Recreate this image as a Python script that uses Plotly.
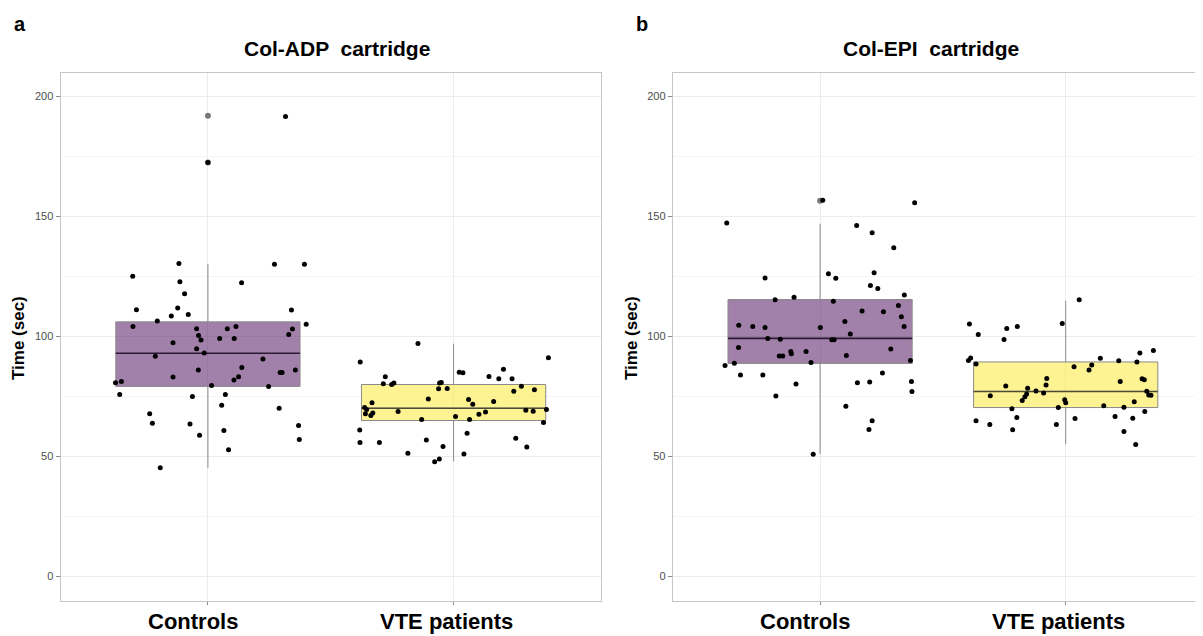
import plotly.graph_objects as go

# ---------------- data ----------------
CATEGORIES = ["Controls", "VTE patients"]
CAT_POS = [1, 2]
PANEL_TITLES = ["Col-ADP  cartridge", "Col-EPI  cartridge"]
PANEL_LETTERS = ["a", "b"]
Y_TITLE = "Time (sec)"
Y_TICKS = [0, 50, 100, 150, 200]

# box statistics: [Controls, VTE patients]
ADP_Q1 = [79.2, 65.0]
ADP_MED = [93.0, 70.1]
ADP_Q3 = [106.1, 80.0]
ADP_LO = [45.3, 48.0]
ADP_HI = [130.2, 97.0]
ADP_OUTLIERS_CTRL = [192.0, 172.5]

EPI_Q1 = [88.8, 70.4]
EPI_MED = [99.2, 77.1]
EPI_Q3 = [115.4, 89.4]
EPI_LO = [51.0, 55.2]
EPI_HI = [147.0, 114.9]
EPI_OUTLIERS_CTRL = [156.6]

# jittered observations: horizontal jitter (category units) and time (sec)
ADP_CTRL_DX = [-0.118, -0.306, -0.114, -0.095, -0.123, -0.291, -0.080, -0.149, -0.206, -0.305,
               -0.046, -0.038, -0.028, -0.142, -0.046, -0.015, -0.214, -0.039, -0.142, -0.376,
               -0.352, -0.359, -0.063, -0.237, -0.226, -0.073, -0.034, -0.194, 0.271, 0.393,
               0.137, 0.340, 0.400, 0.344, 0.329, 0.079, 0.114, 0.048, 0.107, 0.224,
               0.138, 0.356, 0.294, 0.302, 0.125, 0.106, 0.015, 0.247, 0.071, 0.056,
               0.290, 0.369, 0.065, 0.372, 0.084, 0.316, 0.0]
ADP_CTRL_Y = [130.4, 125.1, 122.8, 117.8, 111.9, 111.1, 109.2, 108.5, 106.5, 104.2,
              103.2, 100.4, 98.5, 97.4, 94.9, 93.1, 91.8, 86.0, 83.1, 80.7,
              81.3, 75.8, 75.0, 67.8, 63.9, 63.5, 58.9, 45.3, 130.1, 130.1,
              122.4, 111.0, 105.1, 103.1, 100.8, 103.2, 104.2, 99.2, 99.2, 90.6,
              87.1, 86.0, 85.0, 85.0, 83.2, 81.9, 79.6, 79.2, 75.8, 71.4,
              70.1, 62.9, 60.8, 57.1, 52.8, 191.7, 172.5]

ADP_VTE_DX = [-0.145, -0.380, 0.386, 0.023, 0.038, 0.203, 0.144, 0.184, 0.238, -0.278,
              -0.286, -0.252, -0.243, -0.057, -0.050, -0.061, -0.026, 0.276, 0.245, 0.329,
              -0.103, 0.061, 0.078, 0.163, -0.332, -0.362, -0.354, -0.359, -0.337, -0.329,
              -0.226, 0.294, 0.324, 0.378, 0.130, 0.103, 0.008, -0.130, 0.065, 0.366,
              -0.382, 0.055, 0.253, -0.111, -0.381, -0.302, 0.298, -0.043, -0.186, 0.042,
              -0.058, -0.077]
ADP_VTE_Y = [97.1, 89.4, 91.1, 85.1, 84.9, 86.4, 83.3, 82.4, 82.4, 83.2,
             80.3, 80.0, 80.6, 80.6, 80.8, 78.2, 78.3, 79.3, 77.2, 77.8,
             74.0, 73.8, 71.8, 72.9, 72.4, 70.4, 69.6, 67.8, 67.1, 68.1,
             68.8, 69.3, 68.9, 69.6, 68.5, 67.6, 66.7, 65.4, 65.4, 64.2,
             61.0, 59.7, 57.6, 56.9, 55.8, 55.8, 54.0, 54.2, 51.4, 51.0,
             49.0, 47.8]

EPI_CTRL_DX = [0.011, 0.385, -0.380, 0.149, 0.212, 0.300, 0.034, 0.220, 0.064, -0.224,
               0.205, 0.235, 0.343, -0.106, -0.183, 0.054, 0.319, 0.171, 0.258, 0.331,
               0.101, 0.342, -0.331, -0.274, -0.224, 0.001, 0.123, -0.213, -0.162, 0.048,
               0.057, -0.332, 0.288, -0.119, -0.117, -0.057, -0.166, -0.152, 0.107, 0.368,
               -0.037, -0.387, -0.349, -0.324, -0.233, 0.254, -0.098, 0.152, 0.202, 0.372,
               0.374, -0.180, 0.105, 0.212, 0.199, -0.028]
EPI_CTRL_Y = [156.8, 155.7, 147.3, 146.2, 143.2, 137.0, 126.1, 126.6, 124.3, 124.4,
              121.2, 120.0, 117.3, 116.4, 115.3, 114.7, 112.9, 110.6, 110.3, 108.2,
              106.2, 104.2, 104.7, 104.2, 103.7, 103.7, 101.0, 99.2, 98.9, 98.6,
              98.6, 95.4, 94.8, 93.8, 92.8, 93.8, 91.9, 91.9, 92.1, 90.0,
              89.2, 87.9, 88.9, 84.0, 84.0, 84.8, 80.2, 80.7, 81.0, 81.3,
              77.1, 75.2, 70.9, 64.9, 61.2, 50.9]

EPI_VTE_DX = [0.055, -0.392, -0.014, -0.197, -0.240, -0.356, -0.251, 0.357, 0.302, 0.141,
              0.216, 0.290, -0.387, -0.396, -0.365, 0.106, 0.034, 0.095, -0.077, 0.311,
              0.320, 0.222, -0.080, -0.244, -0.155, -0.121, -0.090, 0.330, 0.338, 0.347,
              -0.159, -0.166, -0.177, -0.307, -0.004, 0.000, 0.279, 0.155, -0.030, 0.237,
              -0.219, 0.322, 0.201, -0.199, 0.273, 0.038, -0.365, -0.309, -0.038, -0.216,
              0.237, 0.285]
EPI_VTE_Y = [115.3, 105.2, 105.4, 104.2, 103.3, 100.8, 98.8, 94.2, 93.1, 90.9,
             89.9, 89.4, 91.0, 90.0, 88.5, 88.1, 87.4, 86.0, 82.5, 82.4,
             82.0, 81.2, 79.8, 79.4, 78.4, 77.3, 76.5, 77.2, 75.6, 75.5,
             76.0, 74.9, 73.3, 75.3, 73.6, 72.4, 72.8, 71.1, 70.4, 70.5,
             69.9, 68.8, 66.7, 66.3, 65.9, 65.8, 64.9, 63.3, 63.3, 61.1,
             60.4, 55.0]

# ---------------- styles ----------------
FONT = "Liberation Sans, Arial, Helvetica, sans-serif"
FILLS = ["rgba(68,1,84,0.5)", "rgba(253,231,37,0.5)"]
MEDIAN_COLORS = ["#2c1936", "#4a4a38"]
BOX_LINE = "#8a8a8a"
BOX_W = 0.75
OFF = 8                      # page body margin offset
W, H = 1203 - OFF, 636 - OFF


def px(v):
    return (v - OFF) / W


def py(v):
    return 1 - (v - OFF) / H


fig = go.Figure()

panels = [
    dict(xa="x", ya="y", q1=ADP_Q1, med=ADP_MED, q3=ADP_Q3, lo=ADP_LO, hi=ADP_HI,
         out=ADP_OUTLIERS_CTRL,
         pts=[(ADP_CTRL_DX, ADP_CTRL_Y), (ADP_VTE_DX, ADP_VTE_Y)]),
    dict(xa="x2", ya="y2", q1=EPI_Q1, med=EPI_MED, q3=EPI_Q3, lo=EPI_LO, hi=EPI_HI,
         out=EPI_OUTLIERS_CTRL,
         pts=[(EPI_CTRL_DX, EPI_CTRL_Y), (EPI_VTE_DX, EPI_VTE_Y)]),
]

for p in panels:
    for i, c in enumerate(CAT_POS):
        fig.add_trace(go.Box(
            x=[c], q1=[p["q1"][i]], median=[p["med"][i]], q3=[p["q3"][i]],
            lowerfence=[p["lo"][i]], upperfence=[p["hi"][i]],
            width=BOX_W, whiskerwidth=0, fillcolor=FILLS[i],
            line=dict(color=BOX_LINE, width=1), boxpoints=False,
            xaxis=p["xa"], yaxis=p["ya"], showlegend=False, hoverinfo="skip"))
        fig.add_trace(go.Scatter(
            x=[c - BOX_W / 2, c + BOX_W / 2], y=[p["med"][i], p["med"][i]],
            mode="lines", line=dict(color=MEDIAN_COLORS[i], width=1.6),
            xaxis=p["xa"], yaxis=p["ya"], showlegend=False, hoverinfo="skip"))
    fig.add_trace(go.Scatter(
        x=[CAT_POS[0]] * len(p["out"]), y=p["out"], mode="markers",
        marker=dict(color="#7a7a7a", size=6),
        xaxis=p["xa"], yaxis=p["ya"], showlegend=False, hoverinfo="skip"))
    for i, c in enumerate(CAT_POS):
        dx, yv = p["pts"][i]
        fig.add_trace(go.Scatter(
            x=[c + d for d in dx], y=yv, mode="markers",
            marker=dict(color="black", size=5),
            xaxis=p["xa"], yaxis=p["ya"], showlegend=False))

GRID = "#ececec"
MINOR_GRID = "#f6f6f6"
BORDER = "#c6c6c6"
TICKC = "#8a8a8a"

ydom = [py(600.5), py(72.5)]
common_y = dict(range=[-10, 210], tickvals=Y_TICKS, showgrid=True, gridcolor=GRID, gridwidth=1,
                minor=dict(tickvals=[25, 75, 125, 175], showgrid=True, gridcolor=MINOR_GRID,
                           gridwidth=1, ticks=""),
                zeroline=False, ticks="outside", ticklen=4, tickcolor=TICKC, tickwidth=1,
                tickfont=dict(family=FONT, size=11, color="#4d4d4d"),
                showline=True, linecolor=BORDER, linewidth=1, domain=ydom, automargin=False)
common_x = dict(tickvals=CAT_POS, showticklabels=False, showgrid=True, gridcolor=GRID,
                zeroline=False, ticks="outside", ticklen=3, tickcolor=TICKC, tickwidth=1,
                showline=True, linecolor=BORDER, linewidth=1, mirror=True, automargin=False)

fig.update_layout(
    template="none",
    width=W, height=H, paper_bgcolor="white", plot_bgcolor="white",
    margin=dict(l=0, r=0, t=0, b=0, pad=0),
    font=dict(family=FONT, color="#4d4d4d"),
    xaxis=dict(common_x, range=[0.4, 2.6], domain=[px(60.5), px(601)], anchor="y"),
    yaxis=dict(common_y, anchor="x", mirror=True),
    xaxis2=dict(common_x, range=[0.4, 2.559], domain=[px(672.7), 1.0], anchor="y2"),
    yaxis2=dict(common_y, anchor="x2", mirror=False),
)

ann = []
letter_x = [20, 642]
title_x = [337, 931]
ytitle_x = [18, 631]
xlab_shift = [-15, -7]
for k in range(2):
    ann.append(dict(text=PANEL_LETTERS[k], x=px(letter_x[k]), y=py(24), xref="paper", yref="paper",
                    xanchor="center", yanchor="middle", showarrow=False,
                    font=dict(family=FONT, size=20, color="black", weight="bold")))
    ann.append(dict(text=PANEL_TITLES[k], x=px(title_x[k]), y=py(48.5), xref="paper", yref="paper",
                    xanchor="center", yanchor="middle", showarrow=False,
                    font=dict(family=FONT, size=21, color="black", weight="bold")))
    ann.append(dict(text=Y_TITLE, x=px(ytitle_x[k]), y=py(338), xref="paper", yref="paper",
                    xanchor="center", yanchor="middle", textangle=-90, showarrow=False,
                    font=dict(family=FONT, size=17, color="black", weight="bold")))
    xr = "x" if k == 0 else "x2"
    for i, c in enumerate(CAT_POS):
        ann.append(dict(text=CATEGORIES[i], x=c, xref=xr, y=py(621.5), yref="paper",
                        xanchor="center", yanchor="middle", xshift=xlab_shift[i], showarrow=False,
                        font=dict(family=FONT, size=22, color="black", weight="bold")))
fig.update_layout(annotations=ann)

fig.write_html("out.html")
